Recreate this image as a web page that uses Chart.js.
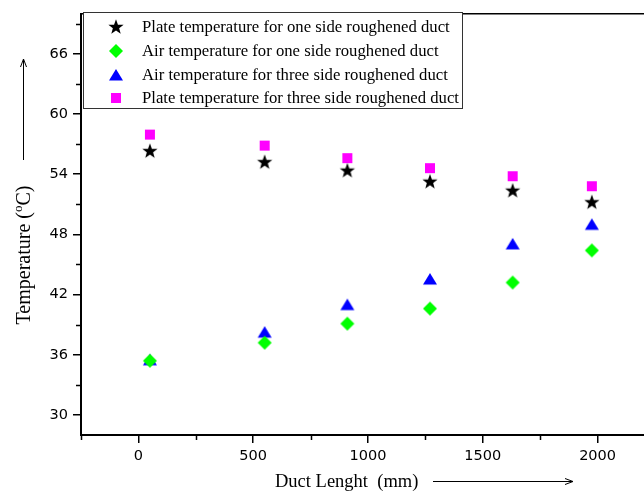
<!DOCTYPE html>
<html>
<head>
<meta charset="utf-8">
<script src="https://cdn.jsdelivr.net/npm/chart.js@4"></script>
<style>
  html, body { margin: 0; padding: 0; background: #fff; overflow: hidden; width: 644px; height: 491px; }
  canvas { display: block; }
</style>
</head>
<body>
<canvas id="tempchart" width="660" height="491"></canvas>
<script>
const ductLength = [50, 550, 910, 1270, 1630, 1975]
const plateOneSide = [56.3, 55.2, 54.35, 53.25, 52.35, 51.2]
const airOneSide = [35.4, 37.2, 39.1, 40.6, 43.2, 46.4]
const airThreeSide = [35.5, 38.25, 41.0, 43.55, 47.05, 49.0]
const plateThreeSide = [57.95, 56.85, 55.6, 54.6, 53.8, 52.8]
const xTickValues = [0, 500, 1000, 1500, 2000]
const yTickValues = [30, 36, 42, 48, 54, 60, 66]
const xMinorTicks = [-250, 250, 750, 1250, 1750, 2250]
const yMinorTicks = [33, 39, 45, 51, 57, 63, 69]
const seriesNames = [
  'Plate temperature for one side roughened duct',
  'Air temperature for one side roughened duct',
  'Air temperature for three side roughened duct',
  'Plate temperature for three side roughened duct'
]

// marker images
const makeMarker = (draw) => {
  const c = document.createElement('canvas')
  c.width = 18
  c.height = 18
  const ctx = c.getContext('2d')
  draw(ctx)
  return c
}
const starMarker = makeMarker(ctx => {
  ctx.fillStyle = '#000'
  ctx.beginPath()
  for (let i = 0; i < 10; i++) {
    const r = i % 2 === 0 ? 8 : 3.3
    const a = -Math.PI / 2 + i * Math.PI / 5
    ctx.lineTo(9 + r * Math.cos(a), 9.3 + r * Math.sin(a))
  }
  ctx.closePath()
  ctx.fill()
})
const diamondMarker = makeMarker(ctx => {
  ctx.fillStyle = '#00ff00'
  ctx.beginPath()
  ctx.moveTo(9, 2); ctx.lineTo(16, 9); ctx.lineTo(9, 16); ctx.lineTo(2, 9)
  ctx.closePath()
  ctx.fill()
})
const triangleMarker = makeMarker(ctx => {
  ctx.fillStyle = '#0000ff'
  ctx.beginPath()
  ctx.moveTo(9, 3); ctx.lineTo(16, 14.5); ctx.lineTo(2, 14.5)
  ctx.closePath()
  ctx.fill()
})
const squareMarker = makeMarker(ctx => {
  ctx.fillStyle = '#ff00ff'
  ctx.fillRect(4, 4, 10, 10)
})
const markers = [starMarker, diamondMarker, triangleMarker, squareMarker]

const toPoints = (ys) => ductLength.map((x, i) => ({ x: x, y: ys[i] }))

const decorations = {
  id: 'decorations',
  afterDraw(chart) {
    const ctx = chart.ctx
    const area = chart.chartArea
    const xs = chart.scales.x
    const ys = chart.scales.y
    ctx.save()
    ctx.strokeStyle = '#000'
    ctx.lineWidth = 1.5
    // top frame
    ctx.beginPath()
    ctx.moveTo(area.left, area.top)
    ctx.lineTo(chart.width, area.top)
    ctx.stroke()
    // minor ticks
    ctx.beginPath()
    xMinorTicks.forEach(v => {
      const px = Math.round(xs.getPixelForValue(v)) + 0.5
      ctx.moveTo(px, area.bottom)
      ctx.lineTo(px, area.bottom + 5)
    })
    yMinorTicks.forEach(v => {
      const py = Math.round(ys.getPixelForValue(v)) + 0.5
      ctx.moveTo(area.left, py)
      ctx.lineTo(area.left - 5, py)
    })
    ctx.stroke()

    // legend
    ctx.fillStyle = '#fff'
    ctx.fillRect(83, 12, 379, 96)
    ctx.strokeStyle = '#333'
    ctx.lineWidth = 1
    ctx.strokeRect(83.5, 12.5, 379, 96)
    ctx.fillStyle = '#000'
    ctx.font = '16.7px "Liberation Serif"'
    ctx.textBaseline = 'middle'
    const rowY = [27, 51, 75, 98]
    seriesNames.forEach((name, i) => {
      ctx.drawImage(markers[i], 116 - 9, rowY[i] - 9)
      ctx.fillText(name, 142, rowY[i] + 1)
    })

    // axis titles
    ctx.font = '18.5px "Liberation Serif"'
    ctx.textBaseline = 'alphabetic'
    ctx.fillText('Duct Lenght  (mm)', 275, 487)
    ctx.save()
    ctx.translate(30, 255)
    ctx.rotate(-Math.PI / 2)
    const p1 = 'Temperature ('
    const p3 = 'C)'
    ctx.font = '20px "Liberation Serif"'
    const w1 = ctx.measureText(p1).width
    ctx.font = '13px "Liberation Serif"'
    const w2 = ctx.measureText('o').width
    ctx.font = '20px "Liberation Serif"'
    const w3 = ctx.measureText(p3).width
    let sx = -(w1 + w2 + w3) / 2
    ctx.fillText(p1, sx, 0)
    ctx.font = '13px "Liberation Serif"'
    ctx.fillText('o', sx + w1, -8)
    ctx.font = '20px "Liberation Serif"'
    ctx.fillText(p3, sx + w1 + w2, 0)
    ctx.restore()

    // arrows
    ctx.strokeStyle = '#000'
    ctx.lineWidth = 1
    ctx.beginPath()
    ctx.moveTo(433, 481.5); ctx.lineTo(573, 481.5)
    ctx.moveTo(565, 478.5); ctx.lineTo(573, 481.5); ctx.lineTo(565, 484.5)
    ctx.moveTo(23.5, 160); ctx.lineTo(23.5, 59)
    ctx.moveTo(20.5, 67); ctx.lineTo(23.5, 59); ctx.lineTo(26.5, 67)
    ctx.stroke()
    ctx.restore()
  }
}

const data = {
  datasets: [
    { label: seriesNames[0], data: toPoints(plateOneSide), pointStyle: starMarker },
    { label: seriesNames[1], data: toPoints(airOneSide), pointStyle: diamondMarker },
    { label: seriesNames[2], data: toPoints(airThreeSide), pointStyle: triangleMarker },
    { label: seriesNames[3], data: toPoints(plateThreeSide), pointStyle: squareMarker }
  ]
}

const tempConfig = {
  type: 'scatter',
  data: data,
  options: {
    responsive: false,
    animation: false,
    events: [],
    layout: { padding: { top: 11, right: 1.5, left: 0, bottom: 0 } },
    plugins: { legend: { display: false }, tooltip: { enabled: false } },
    scales: {
      x: {
        type: 'linear',
        min: -250,
        max: 2250,
        afterBuildTicks: (scale) => { scale.ticks = xTickValues.map(v => ({ value: v })) },
        afterFit: (scale) => { scale.height = 56 },
        border: { display: true, color: '#000', width: 2 },
        grid: { display: true, drawOnChartArea: false, drawTicks: true, tickLength: 8, color: '#000', lineWidth: 1.5 },
        ticks: { color: '#000', padding: 5, font: { family: 'DejaVu Sans', size: 14.5 }, maxRotation: 0, callback: (v) => String(v) }
      },
      y: {
        type: 'linear',
        min: 28,
        max: 70,
        afterBuildTicks: (scale) => { scale.ticks = yTickValues.map(v => ({ value: v })) },
        afterFit: (scale) => { scale.width = 81 },
        border: { display: true, color: '#000', width: 2 },
        grid: { display: true, drawOnChartArea: false, drawTicks: true, tickLength: 8, color: '#000', lineWidth: 1.5 },
        ticks: { color: '#000', padding: 5, font: { family: 'DejaVu Sans', size: 14.5 }, callback: (v) => String(v) }
      }
    }
  },
  plugins: [decorations]
}

const tempChart = new Chart(document.getElementById('tempchart'), tempConfig)
</script>
</body>
</html>
